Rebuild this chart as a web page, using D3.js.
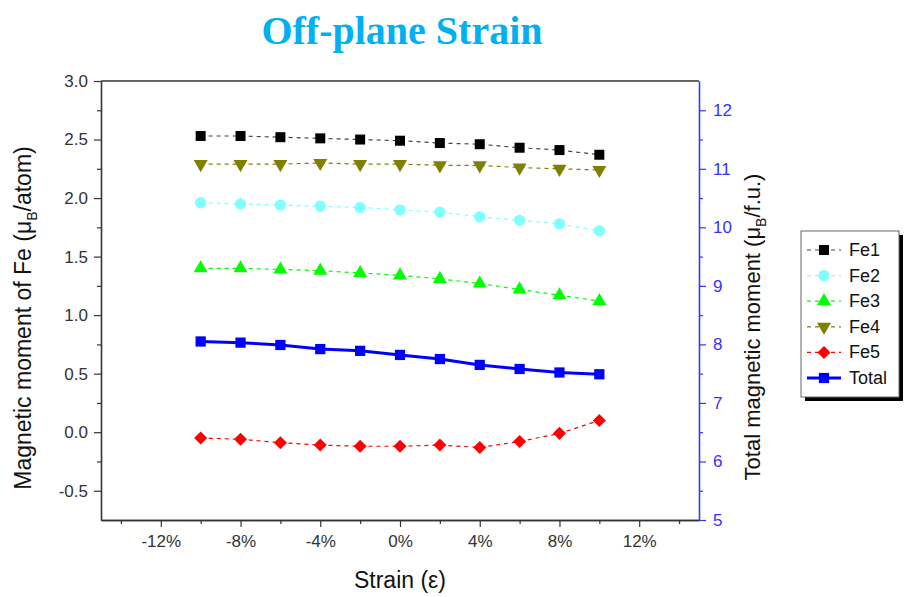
<!DOCTYPE html>
<html>
<head>
<meta charset="utf-8">
<script src="https://cdnjs.cloudflare.com/ajax/libs/d3/7.8.5/d3.min.js"></script>
<style>
  body { margin: 0; background: #fff; }
  text { font-family: "Liberation Sans", Arial, sans-serif; }
</style>
</head>
<body>
<div id="chart"></div>
<script>
width = 904;
height = 597;

// strain in %
var strain = [-10, -8, -6, -4, -2, 0, 2, 4, 6, 8, 10];

// magnetic moments (muB/atom), left axis
var fe1 = [2.53, 2.53, 2.52, 2.51, 2.50, 2.49, 2.47, 2.46, 2.43, 2.41, 2.37];
var fe2 = [1.96, 1.95, 1.94, 1.93, 1.92, 1.90, 1.88, 1.84, 1.81, 1.78, 1.72];
var fe3 = [1.40, 1.40, 1.39, 1.38, 1.36, 1.34, 1.31, 1.27, 1.22, 1.17, 1.12];
var fe4 = [2.29, 2.29, 2.29, 2.30, 2.29, 2.29, 2.28, 2.28, 2.26, 2.25, 2.24];
var fe5 = [-0.05, -0.06, -0.09, -0.11, -0.12, -0.12, -0.11, -0.13, -0.08, -0.01, 0.10];

// total moment (muB/f.u.), right axis
var total = [8.05, 8.03, 7.99, 7.92, 7.89, 7.82, 7.75, 7.65, 7.58, 7.52, 7.49];

var xTicks = [-12, -8, -4, 0, 4, 8, 12];
var yLeftTicks = [-0.5, 0.0, 0.5, 1.0, 1.5, 2.0, 2.5, 3.0];
var yRightTicks = [5, 6, 7, 8, 9, 10, 11, 12];

var plotLeft = 101, plotRight = 699, plotTop = 81, plotBottom = 520;

var x = d3.scaleLinear().domain([-15, 15]).range([plotLeft, plotRight]);
var yL = d3.scaleLinear().domain([-0.75, 3.0]).range([plotBottom, plotTop]);
var yR = d3.scaleLinear().domain([5, 12.5]).range([plotBottom, plotTop]);

var svg = d3.select("#chart")
    .append("svg")
    .attr("width", width)
    .attr("height", height);

// title
svg.append("text")
    .attr("x", 402)
    .attr("y", 44)
    .attr("text-anchor", "middle")
    .style("font-family", "'Liberation Serif', 'Times New Roman', serif")
    .style("font-weight", "bold")
    .style("font-size", "40px")
    .style("fill", "#00b0f0")
    .text("Off-plane Strain");

// top frame line
svg.append("line")
    .attr("x1", plotLeft).attr("x2", plotRight)
    .attr("y1", plotTop).attr("y2", plotTop)
    .style("stroke", "#333").style("stroke-width", 1.3);

// x axis, major + minor ticks
svg.append("g")
    .attr("transform", "translate(0," + plotBottom + ")")
    .call(d3.axisBottom(x)
        .tickValues(xTicks)
        .tickFormat(d => d + "%")
        .tickSizeInner(7)
        .tickSizeOuter(0)
        .tickPadding(8));

svg.append("g")
    .attr("transform", "translate(0," + plotBottom + ")")
    .call(d3.axisBottom(x).tickValues(d3.range(-14, 15, 4)).tickSizeInner(4).tickSizeOuter(0).tickFormat(""));

// left axis
svg.append("g")
    .attr("transform", "translate(" + plotLeft + ",0)")
    .call(d3.axisLeft(yL).tickValues(yLeftTicks).tickFormat(d => d.toFixed(1)).tickSizeInner(7).tickSizeOuter(0).tickPadding(6));

svg.append("g")
    .attr("transform", "translate(" + plotLeft + ",0)")
    .call(d3.axisLeft(yL).tickValues(d3.range(-0.25, 3, 0.5)).tickSizeInner(4).tickSizeOuter(0).tickFormat(""));

// right axis (blue)
svg.append("g")
    .attr("class", "raxis")
    .attr("transform", "translate(" + plotRight + ",0)")
    .call(d3.axisRight(yR).tickValues(yRightTicks).tickSizeInner(7).tickSizeOuter(0).tickPadding(7));

svg.append("g")
    .attr("class", "raxis")
    .attr("transform", "translate(" + plotRight + ",0)")
    .call(d3.axisRight(yR).tickValues(d3.range(5.5, 12.5, 1)).tickSizeInner(4).tickSizeOuter(0).tickFormat(""));

svg.selectAll(".domain").style("stroke", "#333").style("stroke-width", 1.3);
svg.selectAll(".tick line").style("stroke", "#333").style("stroke-width", 1.2);
svg.selectAll(".tick text")
    .style("font-size", "17px")
    .style("fill", "#333");
svg.selectAll(".raxis .domain, .raxis .tick line").style("stroke", "#3333ff");
svg.selectAll(".raxis .tick text").style("fill", "#3333ff");

// axis titles
svg.append("text")
    .attr("x", 400)
    .attr("y", 588)
    .attr("text-anchor", "middle")
    .style("font-size", "23px")
    .style("fill", "#111")
    .text("Strain (ε)");

var lt = svg.append("text")
    .attr("transform", "translate(31,318) rotate(-90)")
    .attr("text-anchor", "middle")
    .style("font-size", "23px")
    .style("fill", "#111");
lt.append("tspan").text("Magnetic moment of Fe (μ");
lt.append("tspan").attr("dy", 6).style("font-size", "14px").text("B");
lt.append("tspan").attr("dy", -6).text("/atom)");

var rt = svg.append("text")
    .attr("transform", "translate(760,327) rotate(-90)")
    .attr("text-anchor", "middle")
    .style("font-size", "22px")
    .style("fill", "#111");
rt.append("tspan").text("Total magnetic moment (μ");
rt.append("tspan").attr("dy", 6).style("font-size", "14px").text("B");
rt.append("tspan").attr("dy", -6).text("/f.u.)");

// series definitions
var series = [
    { name: "Fe1", values: fe1, scale: yL, color: "#000000", line: "#444", symbol: d3.symbolSquare, size: 100, rotate: 0, dash: "4,4", width: 1.2 },
    { name: "Fe2", values: fe2, scale: yL, color: "#80ffff", line: "#80ffff", symbol: d3.symbolCircle, size: 100, rotate: 0, dash: "4,4", width: 1.2 },
    { name: "Fe3", values: fe3, scale: yL, color: "#00ff00", line: "#00ff00", symbol: d3.symbolTriangle, size: 85, rotate: 0, dash: "4,4", width: 1.2 },
    { name: "Fe4", values: fe4, scale: yL, color: "#808000", line: "#808000", symbol: d3.symbolTriangle, size: 85, rotate: 180, dash: "4,4", width: 1.2 },
    { name: "Fe5", values: fe5, scale: yL, color: "#ff0000", line: "#ff0000", symbol: d3.symbolSquare, size: 85, rotate: 45, dash: "4,4", width: 1.2 },
    { name: "Total", values: total, scale: yR, color: "#0000ff", line: "#0000ff", symbol: d3.symbolSquare, size: 105, rotate: 0, dash: null, width: 3 }
];

series.forEach(function(s) {
    var line = d3.line()
        .x((d, i) => x(strain[i]))
        .y(d => s.scale(d));

    svg.append("path")
        .datum(s.values)
        .attr("d", line)
        .style("fill", "none")
        .style("stroke", s.line)
        .style("stroke-width", s.width)
        .style("stroke-dasharray", s.dash);

    svg.selectAll("mk" + s.name)
        .data(s.values)
        .enter()
        .append("path")
        .attr("d", d3.symbol().type(s.symbol).size(s.size))
        .attr("transform", (d, i) => "translate(" + x(strain[i]) + "," + s.scale(d) + ") rotate(" + s.rotate + ")")
        .style("fill", s.color);
});

// legend with drop shadow
var legend = svg.append("g").attr("transform", "translate(801,231)");

legend.append("rect")
    .attr("x", 4).attr("y", 4)
    .attr("width", 98).attr("height", 166)
    .style("fill", "#000");

legend.append("rect")
    .attr("width", 98).attr("height", 166)
    .style("fill", "#fff")
    .style("stroke", "#666")
    .style("stroke-width", 1);

series.forEach(function(s, i) {
    var ly = 19 + i * 25.6;
    legend.append("line")
        .attr("x1", 6).attr("x2", 40)
        .attr("y1", ly).attr("y2", ly)
        .style("stroke", s.line)
        .style("stroke-width", s.width)
        .style("stroke-dasharray", s.dash ? "4,4" : null);
    legend.append("path")
        .attr("d", d3.symbol().type(s.symbol).size(s.size))
        .attr("transform", "translate(23," + ly + ") rotate(" + s.rotate + ")")
        .style("fill", s.color);
    legend.append("text")
        .attr("x", 48)
        .attr("y", ly + 6)
        .style("font-size", "18px")
        .style("fill", "#111")
        .text(s.name);
});
</script>
</body>
</html>
